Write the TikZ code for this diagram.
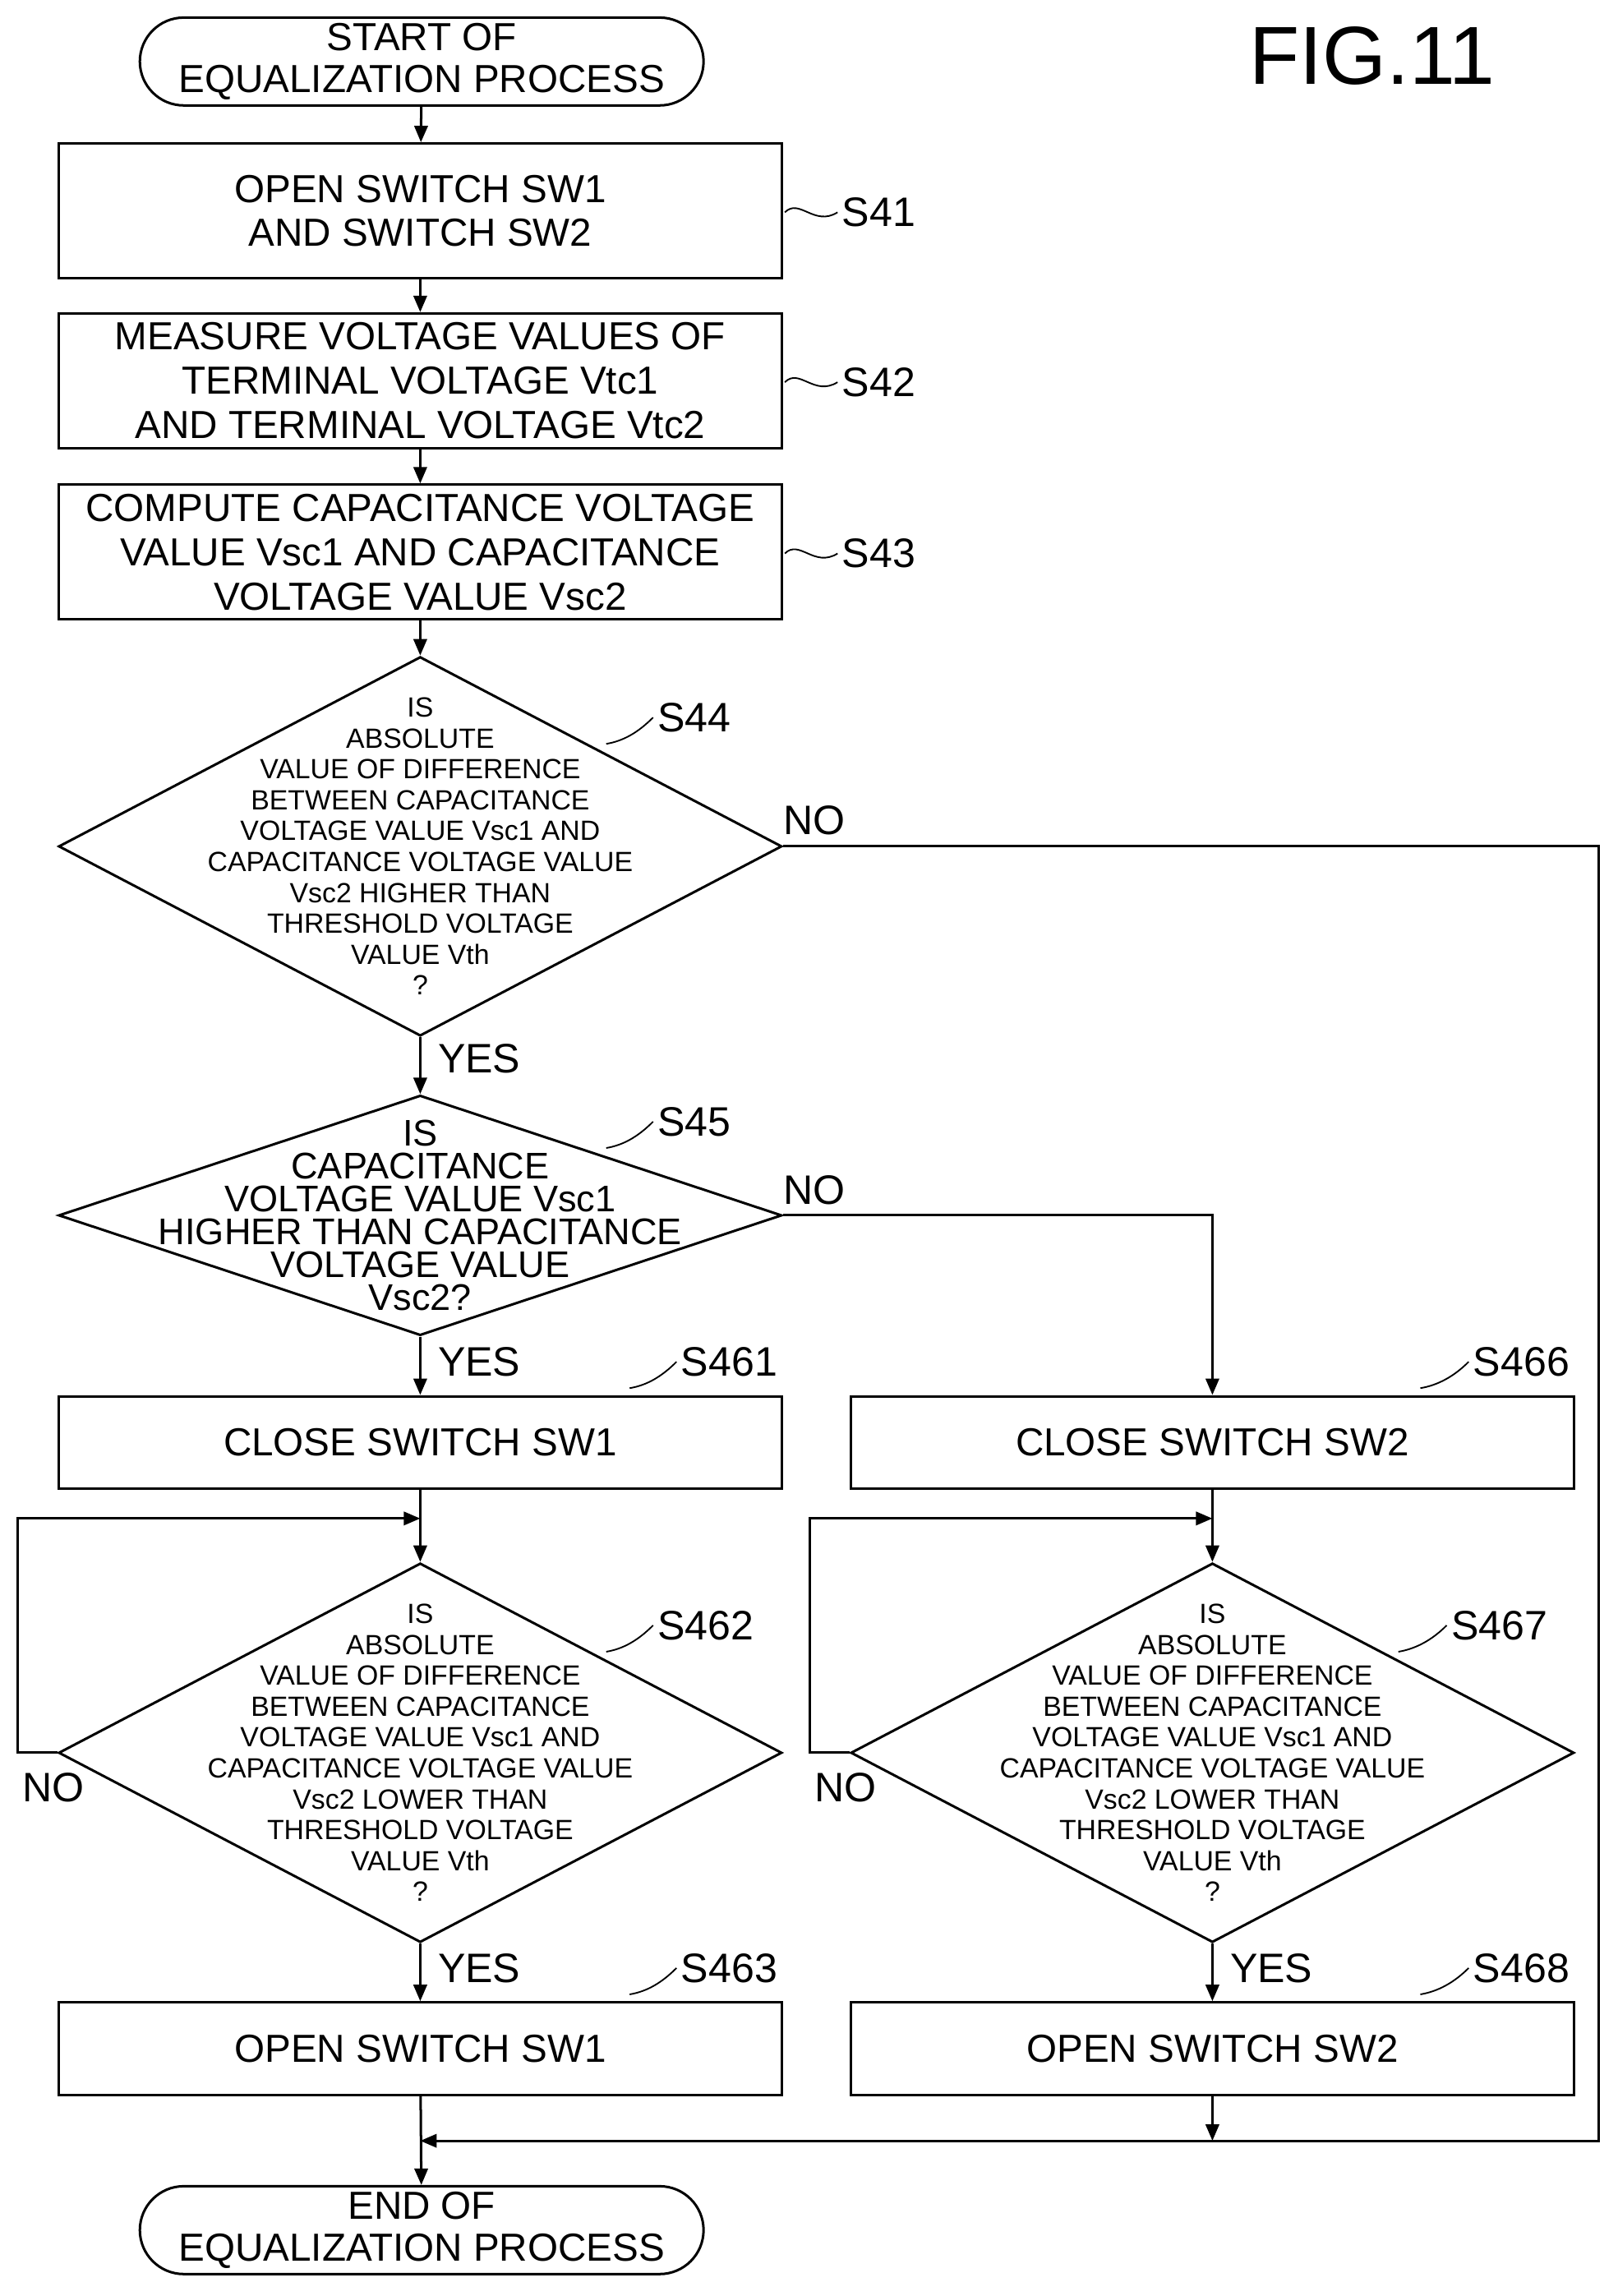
\documentclass[tikz,border=0pt]{standalone}
\usepackage{fontspec}
\setmainfont{Liberation Sans}
\usetikzlibrary{shapes.geometric,shapes.misc,arrows.meta}
\begin{document}
\begin{tikzpicture}[x=0.05cm,y=-0.05cm,line width=2.4pt,
  box/.style={draw,rectangle,minimum width=24.7cm,align=center,font=\fontsize{38}{43}\selectfont,inner sep=0pt},
  term/.style={draw,rounded rectangle,minimum width=19.25cm,minimum height=3cm,align=center,font=\fontsize{38}{40}\selectfont,inner sep=0pt},
  dia/.style={draw,diamond,minimum width=24.7cm,inner sep=0pt},
  dtext/.style={align=center,font=\fontsize{27}{30}\selectfont},
  lab/.style={font=\fontsize{40}{40}\selectfont,anchor=west},
  arr/.style={-{Triangle[length=16pt,width=13pt]}},
  sq/.style={line width=1.5pt}]
\useasboundingbox (0,0) rectangle (1105,1568);
\node[lab,font=\fontsize{80}{80}\selectfont] (fig) at (850,38) {FIG.11};
\node[term] (start) at (288,42) {START OF\\EQUALIZATION PROCESS};
\node[box,minimum height=4.6cm] (s41) at (287,144) {OPEN SWITCH SW1\\AND SWITCH SW2};
\node[box,minimum height=4.6cm] (s42) at (287,260) {MEASURE VOLTAGE VALUES OF\\TERMINAL VOLTAGE Vtc1\\AND TERMINAL VOLTAGE Vtc2};
\node[box,minimum height=4.6cm] (s43) at (287,377) {COMPUTE CAPACITANCE VOLTAGE\\VALUE Vsc1 AND CAPACITANCE\\VOLTAGE VALUE Vsc2};
\node[dia,minimum height=12.95cm] (s44) at (287,578) {};
\node[dtext] at (s44) {IS\\ABSOLUTE\\VALUE OF DIFFERENCE\\BETWEEN CAPACITANCE\\VOLTAGE VALUE Vsc1 AND\\CAPACITANCE VOLTAGE VALUE\\Vsc2 HIGHER THAN\\THRESHOLD VOLTAGE\\VALUE Vth\\?};
\node[dia,minimum height=8.2cm] (s45) at (287,830) {};
\node[dtext,font=\fontsize{36}{32}\selectfont] at (s45) {IS\\CAPACITANCE\\VOLTAGE VALUE Vsc1\\HIGHER THAN CAPACITANCE\\VOLTAGE VALUE\\Vsc2?};
\node[box,minimum height=3.15cm] (s461) at (287,985) {CLOSE SWITCH SW1};
\node[box,minimum height=3.15cm] (s466) at (828,985) {CLOSE SWITCH SW2};
\node[dia,minimum height=12.95cm] (s462) at (287,1197) {};
\node[dtext] at (s462) {IS\\ABSOLUTE\\VALUE OF DIFFERENCE\\BETWEEN CAPACITANCE\\VOLTAGE VALUE Vsc1 AND\\CAPACITANCE VOLTAGE VALUE\\Vsc2 LOWER THAN\\THRESHOLD VOLTAGE\\VALUE Vth\\?};
\node[dia,minimum height=12.95cm] (s467) at (828,1197) {};
\node[dtext] at (s467) {IS\\ABSOLUTE\\VALUE OF DIFFERENCE\\BETWEEN CAPACITANCE\\VOLTAGE VALUE Vsc1 AND\\CAPACITANCE VOLTAGE VALUE\\Vsc2 LOWER THAN\\THRESHOLD VOLTAGE\\VALUE Vth\\?};
\node[box,minimum height=3.15cm] (s463) at (287,1399) {OPEN SWITCH SW1};
\node[box,minimum height=3.15cm] (s468) at (828,1399) {OPEN SWITCH SW2};
\node[term] (end) at (288,1523) {END OF\\EQUALIZATION PROCESS};
% connectors
\draw[arr] (start) -- (s41);
\draw[arr] (s41) -- (s42);
\draw[arr] (s42) -- (s43);
\draw[arr] (s43) -- (s44);
\draw[arr] (s44) -- (s45);
\draw[arr] (s45) -- (s461);
\draw[arr] (s45.east) -| (s466.north);
\coordinate (j1) at (287,1037);
\coordinate (j2) at (828,1037);
\coordinate (m) at (287,1462);
\coordinate (m2) at (828,1462);
\draw (s461) -- (j1);
\draw[arr] (j1) -- (s462);
\draw (s466) -- (j2);
\draw[arr] (j2) -- (s467);
\draw[arr] (s462.west) -- (12,1197) |- (j1);
\draw[arr] (s467.west) -- (553,1197) |- (j2);
\draw[arr] (s462) -- (s463);
\draw[arr] (s467) -- (s468);
\draw[arr] (s463) -- (end);
\draw[arr] (s468) -- (m2);
\draw[arr] (s44.east) -- (1092,578) |- (m);
% branch labels
\node[lab] (n44) at (532,560) {NO};
\node[lab] (y44) at (296,723) {YES};
\node[lab] (n45) at (532,813) {NO};
\node[lab] (y45) at (296,930) {YES};
\node[lab] (n462) at (12,1221) {NO};
\node[lab] (y462) at (296,1344) {YES};
\node[lab] (n467) at (553,1221) {NO};
\node[lab] (y467) at (837,1344) {YES};
% step labels
\foreach \n/\x/\y in {S41/572/145, S42/572/261, S43/572/378}{
  \node[lab] (l\n) at (\x,\y) {\n};
  \draw[sq] (536,\y) .. controls (546,\y-10) and (556,\y+10) .. (\x,\y);
}
\foreach \n/\x/\y/\ex/\ey in {S44/446/490/414/508, S45/446/766/414/784, S461/462/930/430/948, S466/1003/930/970/948, S462/446/1110/414/1128, S467/988/1110/955/1128, S463/462/1344/430/1362, S468/1003/1344/970/1362}{
  \node[lab] (l\n) at (\x,\y) {\n};
  \draw[sq] (\ex,\ey) .. controls (\ex+12,\ey-2) and (\x-10,\y+10) .. (\x,\y);
}
\end{tikzpicture}
\end{document}
